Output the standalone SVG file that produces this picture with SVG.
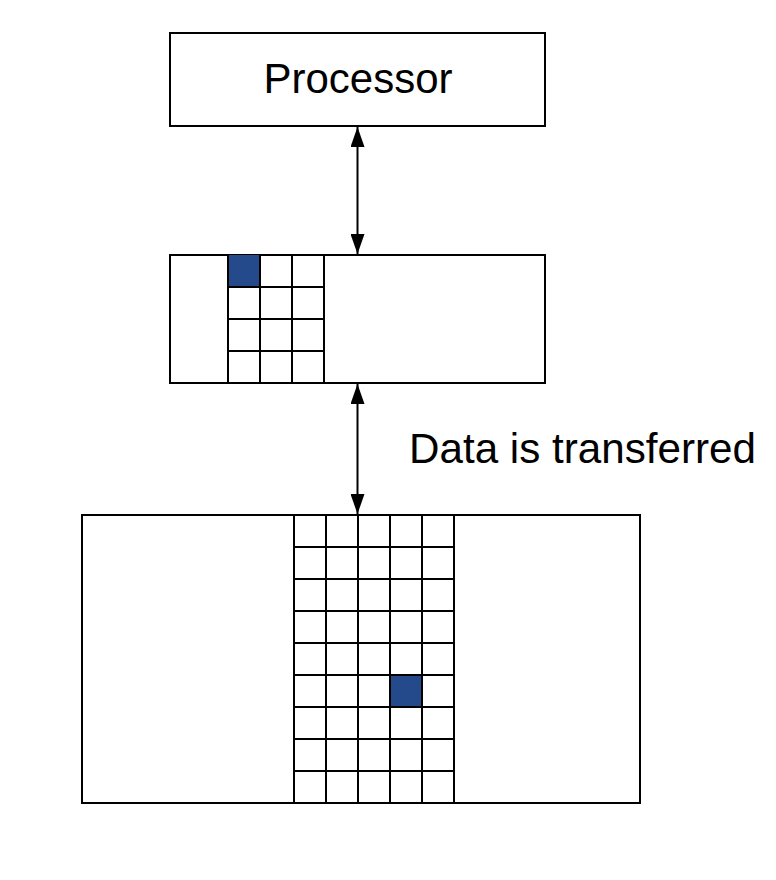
<svg xmlns="http://www.w3.org/2000/svg" width="776" height="880" viewBox="0 0 776 880">
<style>
.box{fill:#fff;stroke:#000;stroke-width:2}
.grid{fill:none;stroke:#000;stroke-width:2}
.hl{fill:#244a8c}
.lbl{font-family:"Liberation Sans",Arial,sans-serif;font-size:42px;fill:#000}
.conn{stroke:#000;stroke-width:2;fill:none;marker-start:url(#ah);marker-end:url(#ah)}
</style>
<defs>
<marker id="ah" viewBox="0 0 20 14" refX="20" refY="7" markerWidth="20" markerHeight="14" markerUnits="userSpaceOnUse" orient="auto-start-reverse">
<path d="M0,0 L20,7 L0,14 Z" fill="#000"/>
</marker>
</defs>
<rect width="776" height="880" fill="#fff"/>
<g id="processor">
<rect class="box" x="170" y="33" width="375" height="93"/>
<text class="lbl" x="358" y="93" text-anchor="middle">Processor</text>
</g>
<g id="cache">
<rect class="box" x="170" y="255" width="375" height="128"/>
<rect class="hl" x="228" y="255" width="32" height="32"/>
<path class="grid" d="M228,255V383M260,255V383M292,255V383M324,255V383M228,287H324M228,319H324M228,351H324"/>
</g>
<g id="memory">
<rect class="box" x="82" y="515" width="558" height="288"/>
<rect class="hl" x="390" y="675" width="32" height="32"/>
<path class="grid" d="M294,515V803M326,515V803M358,515V803M390,515V803M422,515V803M454,515V803M294,547H454M294,579H454M294,611H454M294,643H454M294,675H454M294,707H454M294,739H454M294,771H454"/>
</g>
<g id="connectors">
<line class="conn" x1="357.5" y1="127" x2="357.5" y2="254"/>
<line class="conn" x1="357.5" y1="384" x2="357.5" y2="514"/>
<text class="lbl" x="409" y="463" textLength="347" lengthAdjust="spacingAndGlyphs">Data is transferred</text>
</g>
</svg>
